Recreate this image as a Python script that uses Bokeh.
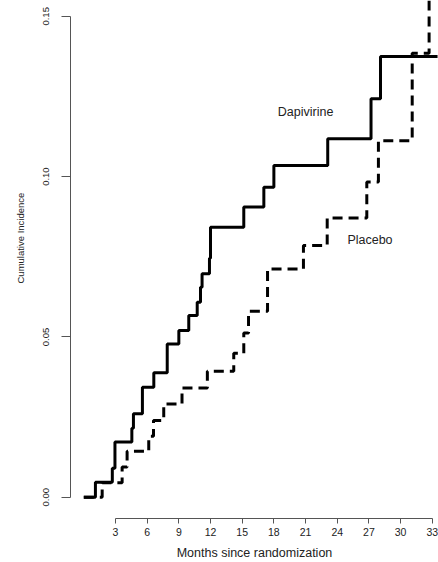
from bokeh.plotting import figure
from bokeh.models import Range1d, FixedTicker, NumeralTickFormatter, Label, Title
from bokeh.embed import file_html
from bokeh.resources import INLINE

# Dapivirine (solid) step curve: event months and cumulative incidence after each step
dapi_months = [0, 1.1, 2.7, 2.95, 4.55, 4.7, 5.55, 6.63, 7.9, 9.0, 9.94, 10.74,
               11.05, 11.2, 11.9, 12.0, 15.15, 17.05, 18.0, 23.1, 27.2, 28.1, 33.5]
dapi_inc = [0.0, 0.0047, 0.009, 0.0172, 0.0215, 0.026, 0.0343, 0.0388, 0.0478, 0.052,
            0.0567, 0.0608, 0.0655, 0.0697, 0.0745, 0.0842, 0.0905, 0.0967, 0.1035,
            0.1118, 0.1243, 0.1375, 0.1375]

# Placebo (dashed) step curve
plac_months = [0, 1.74, 3.63, 4.1, 6.15, 6.6, 7.57, 9.3, 11.7, 14.2, 15.15, 15.6,
               17.4, 20.8, 23.05, 26.8, 27.9, 31.1, 32.7, 33.5]
plac_inc = [0.0, 0.0045, 0.0094, 0.0143, 0.019, 0.0239, 0.0291, 0.0341, 0.0393,
            0.0449, 0.0512, 0.058, 0.0712, 0.0785, 0.0871, 0.0983, 0.1112, 0.1385,
            0.165, 0.165]

x_ticks = [3, 6, 9, 12, 15, 18, 21, 24, 27, 30, 33]
y_ticks = [0.0, 0.05, 0.10, 0.15]

series_labels = ["Dapivirine", "Placebo"]
x_title = "Months since randomization"
y_title = "Cumulative Incidence"

FONT = "Liberation Sans"
AXIS_COL = "#555555"
TEXT_COL = "#222222"

p = figure(width=438, height=562, output_backend="svg", toolbar_location=None,
           x_range=Range1d(-1.26, 33.59), y_range=Range1d(-0.00664, 0.15493),
           min_border_left=70, min_border_right=0, min_border_top=0, min_border_bottom=44)
p.outline_line_color = None
p.xgrid.grid_line_color = None
p.ygrid.grid_line_color = None
p.background_fill_color = "white"
p.border_fill_color = "white"

p.step(dapi_months, dapi_inc, mode="after", line_color="black", line_width=3)
p.step(plac_months, plac_inc, mode="after", line_color="black", line_width=3,
       line_dash="10 6")

# X axis
xa = p.xaxis[0]
xa.ticker = FixedTicker(ticks=x_ticks)
xa.bounds = (x_ticks[0], x_ticks[-1])
xa.axis_line_color = AXIS_COL
xa.major_tick_line_color = AXIS_COL
xa.major_tick_out = 5
xa.major_tick_in = 0
xa.minor_tick_line_color = None
xa.major_label_standoff = 4
xa.major_label_text_font = FONT
xa.major_label_text_font_size = "10.5px"
xa.major_label_text_color = TEXT_COL
xa.axis_label = x_title
xa.axis_label_text_font = FONT
xa.axis_label_text_font_size = "12.5px"
xa.axis_label_text_font_style = "normal"
xa.axis_label_text_color = TEXT_COL
xa.axis_label_standoff = 7

# Y axis
ya = p.yaxis[0]
ya.ticker = FixedTicker(ticks=y_ticks)
ya.bounds = (y_ticks[0], y_ticks[-1])
ya.formatter = NumeralTickFormatter(format="0.00")
ya.axis_line_color = AXIS_COL
ya.major_tick_line_color = AXIS_COL
ya.major_tick_out = 9
ya.major_tick_in = 0
ya.minor_tick_line_color = None
ya.major_label_standoff = 12
ya.major_label_orientation = "vertical"
ya.major_label_text_font = FONT
ya.major_label_text_font_size = "9.5px"
ya.major_label_text_color = TEXT_COL

# Y title as a left-side title, shifted along the axis
p.add_layout(Title(text=y_title, align="left", offset=235, vertical_align="top",
                   text_font=FONT, text_font_size="9.5px", text_font_style="normal",
                   text_color=TEXT_COL, standoff=26), "left")

# Series annotations
p.add_layout(Label(x=21.0, y=0.1201, text=series_labels[0], text_font=FONT,
                   text_font_size="12.5px", text_color=TEXT_COL,
                   text_align="center", text_baseline="middle"))
p.add_layout(Label(x=27.1, y=0.0801, text=series_labels[1], text_font=FONT,
                   text_font_size="12.5px", text_color=TEXT_COL,
                   text_align="center", text_baseline="middle"))

open("out.html", "w").write(file_html(p, INLINE))
